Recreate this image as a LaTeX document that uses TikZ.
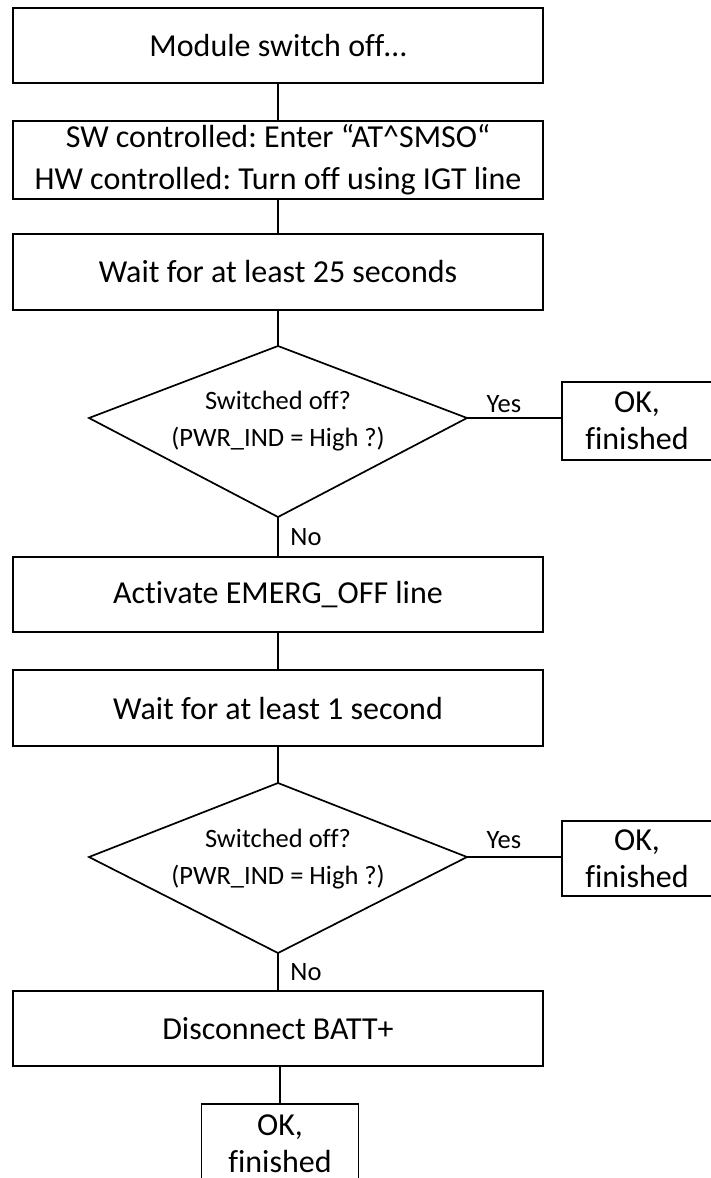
\documentclass[tikz,border=0pt]{standalone}
\usepackage{fontspec}
\setmainfont{Carlito}[Ligatures=NoCommon]
\frenchspacing
\begin{document}
\begin{tikzpicture}[x=1pt,y=-1pt,
  stepbox/.style={draw, line width=1.8pt, minimum width=530pt, inner sep=0pt, align=center,
    font=\fontsize{32}{42}\selectfont},
  okbox/.style={draw, line width=1.8pt, inner sep=0pt, align=center,
    font=\fontsize{32}{37}\selectfont},
  qtext/.style={align=center, inner sep=0pt, font=\fontsize{26.5}{37}\selectfont},
  lab/.style={inner sep=0pt, font=\fontsize{26.5}{30}\selectfont},
  conn/.style={line width=1.3pt},
  dia/.style={line width=1.7pt, line join=miter}]
\useasboundingbox (0,0) rectangle (711,1178);

\node[stepbox, minimum height=75pt] (b1) at (278,45.5) {Module switch off…};
\node[stepbox, minimum height=78pt] (b2) at (278,160) {SW controlled: Enter “AT\textasciicircum SMSO“\\HW controlled: Turn off using IGT line};
\node[stepbox, minimum height=76pt] (b3) at (278,272) {Wait for at least 25 seconds};

\coordinate (d1t) at (278,346);
\coordinate (d1l) at (89,418);
\coordinate (d1r) at (467,418);
\coordinate (d1b) at (278,517);
\draw[dia] (d1t) -- (d1r) -- (d1b) -- (d1l) -- cycle;
\node[qtext] (q1) at (278,421.5) {Switched off?\\(PWR\_IND = High ?)};
\node[okbox, minimum width=150pt, minimum height=78pt] (ok1) at (637,421) {OK,\\finished};

\node[stepbox, minimum height=75pt] (b4) at (278,594.5) {Activate EMERG\_OFF line};
\node[stepbox, minimum height=76pt] (b5) at (278,708) {Wait for at least 1 second};

\coordinate (d2t) at (278,783);
\coordinate (d2l) at (89,857);
\coordinate (d2r) at (467,857);
\coordinate (d2b) at (278,953);
\draw[dia] (d2t) -- (d2r) -- (d2b) -- (d2l) -- cycle;
\node[qtext] (q2) at (278,859) {Switched off?\\(PWR\_IND = High ?)};
\node[okbox, minimum width=150pt, minimum height=75pt] (ok2) at (637,858.5) {OK,\\finished};

\node[stepbox, minimum height=75pt] (b6) at (278,1028.5) {Disconnect BATT+};
\node[okbox, minimum width=157pt, minimum height=79pt] (ok3) at (280,1143.5) {OK,\\finished};

\draw[conn] (b1.south) -- (b2.north);
\draw[conn] (b2.south) -- (b3.north);
\draw[conn] (b3.south) -- (d1t);
\draw[conn] (d1r) -- (d1r -| ok1.west);
\draw[conn] (d1b) -- (d1b |- b4.north);
\draw[conn] (b4.south) -- (b5.north);
\draw[conn] (b5.south) -- (d2t);
\draw[conn] (d2r) -- (d2r -| ok2.west);
\draw[conn] (d2b) -- (d2b |- b6.north);
\draw[conn] (b6.south -| ok3.north) -- (ok3.north);

\node[lab] (y1) at (504,404) {Yes};
\node[lab] (n1) at (306,537) {No};
\node[lab] (y2) at (504,840) {Yes};
\node[lab] (n2) at (306,972) {No};
\end{tikzpicture}
\end{document}
